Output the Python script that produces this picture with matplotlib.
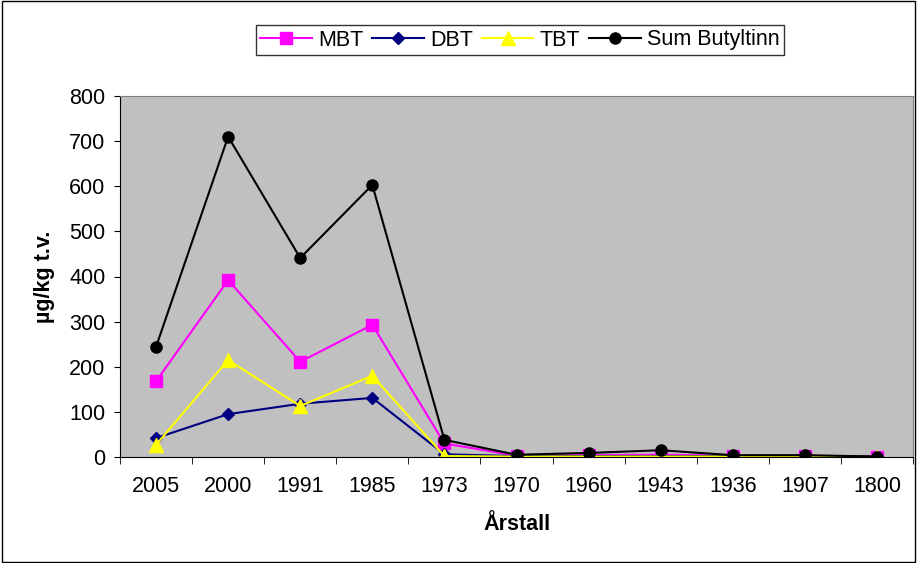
import matplotlib.pyplot as plt
import numpy as np

plt.rcParams['font.family'] = ['Liberation Sans', 'DejaVu Sans']

years = ['2005', '2000', '1991', '1985', '1973', '1970', '1960', '1943', '1936', '1907', '1800']
mbt = [168, 392, 211, 293, 30, 3, 4, 5, 3, 3, 1]
dbt = [42, 95, 118, 131, 6, 2, 2, 2, 2, 2, 1]
tbt = [27, 215, 113, 180, 2, 1, 1, 1, 1, 1, 0]
sum_bt = [244, 710, 441, 603, 38, 5, 9, 15, 4, 4, 1]

FS = 15.5

fig = plt.figure(figsize=(9.17, 5.63), dpi=100)
ax = fig.add_axes([120/917, 106/563, 793/917, 361/563])
ax.set_facecolor('#C0C0C0')

xs = np.arange(len(years))
ax.plot(xs, mbt, color='#FF00FF', marker='s', markersize=8, lw=1.5, label='MBT')
ax.plot(xs, dbt, color='#000080', marker='D', markersize=6.5, lw=1.5, label='DBT')
ax.plot(xs, tbt, color='#FFFF00', marker='^', markersize=9.5, lw=1.5, label='TBT')
ax.plot(xs, sum_bt, color='black', marker='o', markersize=8, lw=1.5, label='Sum Butyltinn')

ax.set_xlim(-0.5, len(years) - 0.5)
ax.set_ylim(0, 800)
ax.set_yticks(range(0, 801, 100))
ax.set_xticks(xs)
ax.set_xticklabels(years)
ax.set_xticks(np.arange(-0.5, len(years)), minor=True)
ax.tick_params(axis='x', which='major', length=0, labelsize=FS, pad=14)
ax.tick_params(axis='x', which='minor', length=5, direction='out')
ax.tick_params(axis='y', labelsize=FS, length=4.5, direction='out', pad=6)

for s in ['top', 'right']:
    ax.spines[s].set_color('#808080')
for s in ['left', 'bottom']:
    ax.spines[s].set_color('black')

ax.set_xlabel('Årstall', fontsize=FS, fontweight='bold', labelpad=12)
ax.set_ylabel('µg/kg t.v.', fontsize=FS, fontweight='bold', labelpad=10)

leg = fig.legend(loc='center', bbox_to_anchor=(520/917, 1 - 40/563), ncol=4,
                 fontsize=FS, frameon=True, fancybox=False, edgecolor='black',
                 handlelength=2.4, handletextpad=0.3, columnspacing=0.4,
                 borderpad=0.2)
leg.get_frame().set_linewidth(1)

fig.patches.append(plt.Rectangle((0.002, 0.002), 0.996, 0.996, transform=fig.transFigure,
                                 fill=False, edgecolor='black', lw=1))

fig.savefig('out.png', dpi=100)
